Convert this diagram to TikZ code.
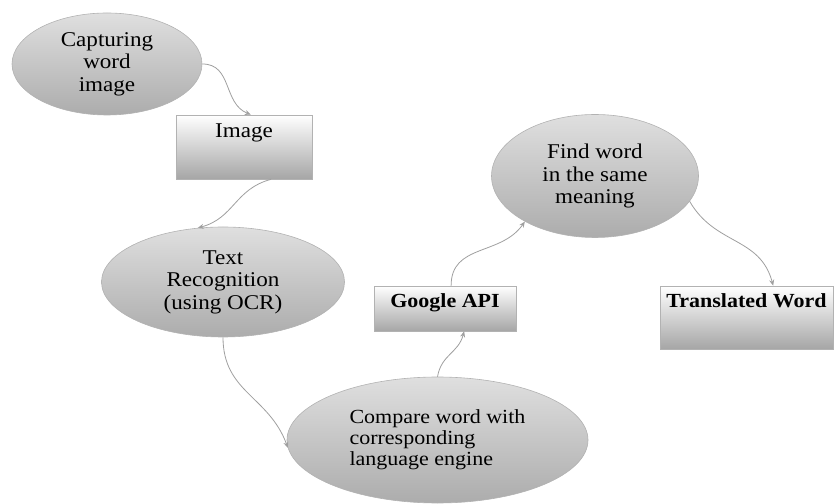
\documentclass[tikz,border=0pt]{standalone}
\usepackage{fontspec}
\setmainfont{Liberation Serif}[FakeStretch=1.1]
\usetikzlibrary{shapes.geometric,arrows.meta}

\begin{document}
\begin{tikzpicture}
[x=1pt,y=1pt,
  lineDecorate/.style={-{Stealth[length=6pt,width=5pt]},line width=0.8pt,draw=gray!75,looseness=1.1},
  ovalDecorate/.style={shape=ellipse,inner sep=0pt,draw=gray!60,line width=0.6pt,
    top color=gray!25,middle color=gray!5,bottom color=gray!65,
    align=center,text=black,font=\fontsize{21}{22.5}\selectfont},
  boxDecorate/.style={shape=rectangle,inner sep=0pt,draw=gray!60,line width=0.6pt,
    top color=white,bottom color=gray!70,text=black,text height=23pt,
    font=\fontsize{21}{22.5}\selectfont}]
\useasboundingbox (0,0) rectangle (834,503);
%% ellipses
\node (cap) at (107,439) [ovalDecorate,minimum width=190pt,minimum height=102pt] {Capturing\\word\\image};
\node (ocr) at (223,221) [ovalDecorate,minimum width=243pt,minimum height=110pt] {Text\\Recognition\\(using OCR)};
\node (find) at (595,327) [ovalDecorate,minimum width=207pt,minimum height=123pt] {Find word\\in the same\\meaning};
\node (cmp) at (437.5,63) [ovalDecorate,align=left,minimum width=301pt,minimum height=126pt,
  font=\fontsize{20}{21}\selectfont] {Compare word with\\corresponding\\language engine};
%% boxes
\node (img) at (244,356) [boxDecorate,minimum width=136pt,text depth=41pt] {Image};
\node (api) at (445,194.5) [boxDecorate,minimum width=142pt,text height=22pt,text depth=23pt,
  font=\fontsize{20}{22}\selectfont\bfseries] {Google API};
\node (trans) at (746.5,185.5) [boxDecorate,minimum width=173pt,text height=22pt,text depth=41pt,
  font=\fontsize{20}{22}\selectfont\bfseries] {Translated Word};
%% connectors
\path
\foreach \startnode/\endnode/\o/\i in {
  cap.east/img.78/0/158, img.-50/ocr.115/195/15, ocr.south/cmp.183/-90/110,
  cmp.north/api.-50/80/-105, api.75/find.213/90/235, find.-15/trans.50/-60/105}
{
  (\startnode) edge[lineDecorate,out=\o,in=\i] (\endnode)
};
\end{tikzpicture}
\end{document}
